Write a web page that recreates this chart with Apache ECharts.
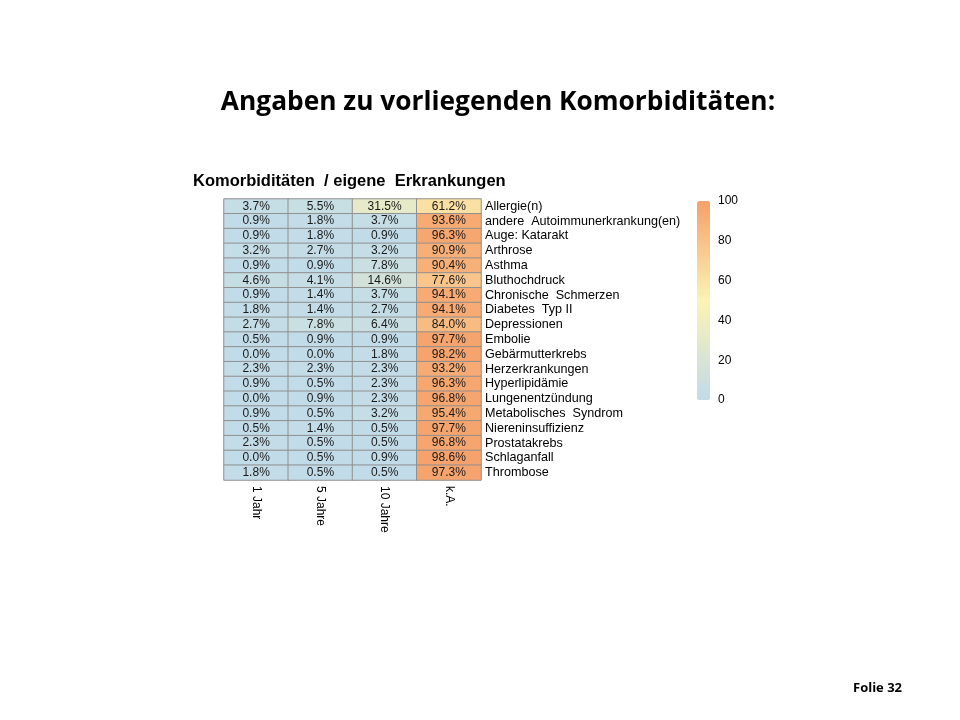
<!DOCTYPE html>
<html><head><meta charset="utf-8">
<script src="https://cdn.jsdelivr.net/npm/echarts@6/dist/echarts.min.js"></script>
<style>html,body{margin:0;padding:0;background:#fff}#c{width:960px;height:720px}</style>
</head><body><div id="c"></div>
<script>
const columns = ['1 Jahr', '5 Jahre', '10 Jahre', 'k.A.'];
const conditions = ['Allergie(n)', 'andere  Autoimmunerkrankung(en)', 'Auge: Katarakt', 'Arthrose', 'Asthma', 'Bluthochdruck', 'Chronische  Schmerzen', 'Diabetes  Typ II', 'Depressionen', 'Embolie', 'Gebärmutterkrebs', 'Herzerkrankungen', 'Hyperlipidämie', 'Lungenentzündung', 'Metabolisches  Syndrom', 'Niereninsuffizienz', 'Prostatakrebs', 'Schlaganfall', 'Thrombose'];
const jahr1  = [3.7, 0.9, 0.9, 3.2, 0.9, 4.6, 0.9, 1.8, 2.7, 0.5, 0.0, 2.3, 0.9, 0.0, 0.9, 0.5, 2.3, 0.0, 1.8];
const jahre5 = [5.5, 1.8, 1.8, 2.7, 0.9, 4.1, 1.4, 1.4, 7.8, 0.9, 0.0, 2.3, 0.5, 0.9, 0.5, 1.4, 0.5, 0.5, 0.5];
const jahre10= [31.5, 3.7, 0.9, 3.2, 7.8, 14.6, 3.7, 2.7, 6.4, 0.9, 1.8, 2.3, 2.3, 2.3, 3.2, 0.5, 0.5, 0.9, 0.5];
const kA     = [61.2, 93.6, 96.3, 90.9, 90.4, 77.6, 94.1, 94.1, 84.0, 97.7, 98.2, 93.2, 96.3, 96.8, 95.4, 97.7, 96.8, 98.6, 97.3];
const colorbarMin = 0, colorbarMax = 100, colorbarStep = 20;

const cols = [jahr1, jahre5, jahre10, kA];
const data = [];
cols.forEach((arr, ci) => arr.forEach((v, ri) => data.push([ci, ri, v])));

const chart = echarts.init(document.getElementById('c'));
chart.setOption({
  backgroundColor: '#fff',
  animation: false,
  title: [
    {text: 'Angaben zu vorliegenden Komorbiditäten:', left: 498, top: 90, textAlign: 'center', padding: 0,
     textStyle: {fontFamily: 'Open Sans', fontWeight: 'bold', fontSize: 26.3, color: '#000'}},
    {text: 'Komorbiditäten  / eigene  Erkrankungen', left: 193, top: 173, padding: 0,
     textStyle: {fontFamily: 'Arial, Liberation Sans', fontWeight: 'bold', fontSize: 16.5, color: '#000'}},
    {text: 'Folie 32', left: 853, top: 682, padding: 0,
     textStyle: {fontFamily: 'Open Sans', fontWeight: 'bold', fontSize: 13, color: '#000'}}
  ],
  grid: [
    {left: 224, top: 199, width: 257, height: 281},
    {left: 697, top: 201, width: 13, height: 199}
  ],
  xAxis: [
    {type: 'category', data: columns, gridIndex: 0, position: 'bottom',
     axisLine: {show: false}, axisTick: {show: false}, splitLine: {show: false},
     axisLabel: {rotate: -90, margin: 6, fontFamily: 'Arial, Liberation Sans', fontSize: 12, color: '#000'}},
    {type: 'value', gridIndex: 1, show: false}
  ],
  yAxis: [
    {type: 'category', data: conditions, gridIndex: 0, inverse: true, position: 'right',
     axisLine: {show: false}, axisTick: {show: false}, splitLine: {show: false},
     axisLabel: {interval: 0, margin: 4, align: 'left', fontFamily: 'Arial, Liberation Sans', fontSize: 12.6, color: '#000'}},
    {type: 'value', gridIndex: 1, min: colorbarMin, max: colorbarMax, interval: colorbarStep, position: 'right',
     axisLine: {show: false}, axisTick: {show: false}, splitLine: {show: false},
     axisLabel: {margin: 8, fontFamily: 'Arial, Liberation Sans', fontSize: 12, color: '#000'}}
  ],
  visualMap: {
    type: 'continuous', min: colorbarMin, max: colorbarMax, seriesIndex: 0, calculable: false,
    orient: 'vertical', left: 697, top: 201, itemWidth: 13, itemHeight: 199, padding: 0,
    inRange: {color: ['#c1dbe9', '#fbf3b4', '#f6a06a']}
  },
  series: [{
    type: 'heatmap', data: data, xAxisIndex: 0, yAxisIndex: 0,
    itemStyle: {borderColor: '#909090', borderWidth: 1},
    label: {show: true, formatter: p => p.value[2].toFixed(1) + '%',
      fontFamily: 'Arial, Liberation Sans', fontSize: 12, color: '#1a1a1a'}
  }]
});
</script></body></html>
